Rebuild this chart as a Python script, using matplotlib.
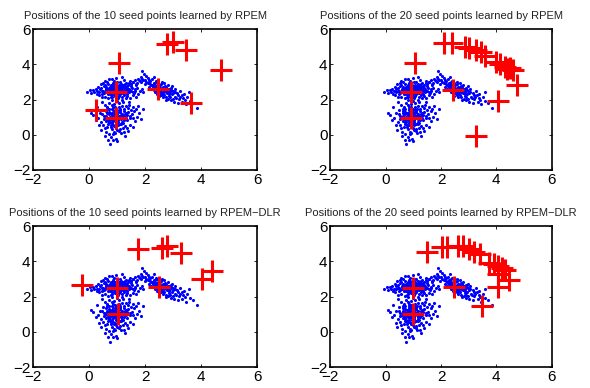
import matplotlib
matplotlib.use("Agg")
import matplotlib.pyplot as plt

plt.rcParams['font.family'] = ['Liberation Sans', 'DejaVu Sans']

# sample data (same in all four panels)
cloud_a = [(0.62,2.71),(1.13,2.38),(0.85,2.95),(1.41,2.62),(0.47,2.33),(1.02,2.07),(1.28,2.89),(0.73,2.52),(1.55,2.41),(0.95,2.66),
           (0.38,2.58),(1.19,2.17),(0.81,2.24),(1.36,2.31),(1.07,2.83),(0.58,2.44),(1.49,2.76),(0.91,2.41),(1.23,2.55),(0.69,2.87),
           (0.29,2.46),(1.63,2.57),(0.77,2.12),(1.11,3.02),(0.52,2.79),(1.31,2.08),(0.98,2.29),(1.44,2.94),(0.66,2.31),(1.05,2.61),
           (0.18,2.41),(1.72,2.68),(0.88,3.08),(1.26,2.44),(0.43,2.67),(1.58,2.23),(0.74,2.69),(1.16,2.74),(0.99,1.93),(1.39,2.51),
           (0.55,2.17),(0.84,2.58),(1.21,2.35),(0.64,2.98),(1.47,2.11),(0.35,2.26),(1.09,2.49),(0.79,2.81),(1.34,2.77),(0.93,2.18),
           (0.08,2.38),(1.82,2.47),(0.71,3.15),(1.25,3.11),(0.49,2.51),(1.66,2.88),(1.03,2.35),(0.86,2.45),(1.14,2.64),(0.60,2.60),
           (0.23,2.62),(1.52,2.65),(0.97,3.21),(1.37,2.19),(0.68,2.06),(1.18,1.98),(0.41,2.88),(1.60,2.36),(0.89,2.72),(1.29,2.69),
           (-0.08,2.43),(0.15,2.52),(0.32,2.73),(1.75,2.31),(1.88,2.59),(0.57,3.05),(1.45,3.08),(1.01,2.98),(0.80,1.99),(1.32,2.96),
           (0.46,2.12),(1.69,2.14),(0.94,2.53),(1.06,2.21),(0.76,2.38),(1.22,2.81),(0.63,2.49),(1.41,2.42),(0.87,2.87),(1.12,2.45),
           (0.27,2.31),(0.51,2.96),(1.56,2.99),(1.17,3.26),(0.82,3.19),(0.05,2.55),(1.93,2.42),(1.64,2.49),(0.37,2.43),(1.35,2.58),
           (0.88,2.52),(1.04,2.44),(0.97,2.61),(1.15,2.53),(0.83,2.37),(1.08,2.69),(0.92,2.31),(1.21,2.47),(0.76,2.61),(1.01,2.56),
           (0.86,2.66),(1.18,2.41),(0.95,2.47),(1.27,2.62),(0.72,2.44),(1.10,2.29),(0.99,2.76),(0.81,2.51),(1.33,2.46),(0.90,2.58),
           (1.06,2.37),(0.78,2.72),(1.24,2.71),(0.93,2.24),(1.13,2.58),(0.67,2.55),(1.02,2.66),(0.87,2.43),(1.30,2.37),(0.96,2.39),
           (0.74,2.33),(1.19,2.63),(1.05,2.52),(0.84,2.79),(1.37,2.67),(0.59,2.52),(1.11,2.78),(0.94,2.84),(1.43,2.53),(0.70,2.64),
           (0.53,2.38),(0.45,2.49),(1.50,2.47),(0.61,2.67),(1.26,2.28),(0.80,2.17),(1.15,2.90),(0.99,2.12),(1.40,2.83),(0.56,2.84)]
cloud_b = [(0.82,1.12),(1.15,0.87),(0.61,0.78),(1.32,1.25),(0.93,0.52),(1.07,1.43),(0.71,1.31),(1.45,0.95),(0.86,0.91),(1.21,0.68),
           (0.53,1.05),(1.01,1.18),(0.77,0.44),(1.38,1.52),(0.96,0.79),(1.26,1.07),(0.65,1.57),(1.11,0.33),(0.84,1.38),(1.52,1.15),
           (0.44,0.72),(1.03,0.96),(0.73,1.01),(1.18,1.61),(0.89,0.18),(1.34,0.81),(0.58,0.93),(0.98,1.27),(1.27,0.49),(0.69,0.61),
           (1.62,1.33),(0.39,1.21),(1.09,0.62),(0.81,1.68),(1.41,1.71),(0.92,1.04),(0.55,0.38),(1.23,1.34),(0.75,0.83),(1.14,1.12),
           (0.31,0.95),(1.71,1.02),(0.87,0.05),(1.05,1.78),(0.63,1.21),(1.47,0.58),(0.97,0.41),(1.29,0.98),(0.70,1.45),(1.16,0.75),
           (0.48,1.41),(1.58,1.58),(0.79,-0.12),(1.36,0.36),(0.91,1.55),(0.60,0.15),(1.20,1.88),(0.83,0.67),(1.08,0.24),(0.66,0.97),
           (0.24,0.86),(1.79,1.21),(0.95,-0.22),(1.12,1.49),(0.72,1.82),(1.50,1.39),(0.51,0.57),(1.30,1.64),(0.88,0.86),(1.02,0.73),
           (0.75,-0.55),(0.68,-0.28),(0.42,0.25),(1.85,0.91),(1.92,1.45),(0.36,0.53),(1.24,0.13),(0.57,1.71),(1.65,0.76),(1.44,1.86),
           (0.80,1.22),(1.06,1.08),(0.94,1.19),(0.74,0.70),(1.19,0.93),(0.62,1.34),(1.35,1.11),(0.85,0.55),(1.10,1.31),(0.99,0.88),
           (0.15,1.12),(0.08,1.24),(0.46,1.86),(1.55,0.42),(1.40,0.21),(0.99,-0.35),(0.58,-0.08),(1.74,1.62),(0.27,1.55),(1.28,-0.05),
           (0.91,0.97),(1.06,1.02),(0.97,1.11),(1.13,0.94),(0.84,1.04),(1.02,0.84),(0.88,1.21),(1.17,1.19),(0.95,0.68),(1.09,1.27),
           (0.79,0.92),(1.23,0.86),(0.93,1.33),(1.04,0.58),(0.71,1.15),(1.19,1.04),(0.86,0.77),(1.11,1.40),(0.98,1.02),(1.28,1.19),
           (0.76,1.24),(1.00,0.65),(0.83,1.47),(1.15,0.60),(0.67,0.86),(1.33,0.95),(0.90,0.47),(1.07,1.60),(0.62,1.06),(1.25,1.47),
           (0.97,1.45),(0.78,0.58),(1.39,1.31),(0.70,0.74),(1.01,0.29),(0.86,1.60),(1.20,0.39),(0.64,1.44),(1.46,1.08),(0.52,0.88),
           (0.93,0.11),(0.80,0.30),(1.14,0.12),(0.71,0.03),(0.84,-0.30),(0.65,0.45),(1.57,0.95),(1.68,1.44),(0.47,1.19),(0.90,1.77)]
cloud_c = [(2.41,2.57),(2.63,2.44),(2.28,2.71),(2.79,2.36),(2.52,2.82),(2.95,2.29),(2.17,2.91),(2.68,2.63),(2.35,2.41),(2.87,2.52),
           (2.04,3.02),(2.58,2.28),(2.73,2.12),(2.46,2.95),(3.08,2.17),(1.92,3.11),(2.61,2.67),(2.22,2.58),(3.14,2.39),(2.83,2.04),
           (1.81,3.04),(2.39,3.08),(2.99,2.48),(2.54,2.51),(2.71,2.79),(1.72,2.93),(2.11,3.21),(3.21,2.02),(2.33,2.83),(2.91,2.66),
           (1.65,3.12),(2.48,2.19),(3.31,2.25),(2.26,3.14),(2.77,2.47),(1.98,2.87),(3.02,1.88),(2.59,2.99),(2.14,2.72),(3.42,1.96),
           (1.87,3.29),(2.65,2.33),(2.43,2.69),(3.26,2.51),(2.03,3.35),(2.86,2.21),(2.56,2.61),(1.58,3.02),(3.51,2.13),(2.37,2.98),
           (2.92,1.95),(1.95,3.47),(2.69,2.93),(3.16,1.79),(2.19,3.05),(3.37,2.33),(1.76,3.19),(2.81,2.83),(2.50,2.38),(3.06,2.61),
           (1.50,2.88),(2.31,3.26),(3.60,1.91),(2.75,1.99),(3.45,1.72),(1.68,2.81),(2.09,2.95),(2.97,2.74),(3.71,1.82),(3.85,1.53),
           (3.58,2.42),(1.90,3.60),(2.62,2.15),(2.38,2.47),(2.84,2.58),(3.11,2.07),(2.25,2.84),(1.84,2.98),(3.33,1.86),(2.70,2.71),
           (2.47,2.52),(2.58,2.43),(2.39,2.62),(2.66,2.55),(2.52,2.66),(2.74,2.42),(2.31,2.55),(2.61,2.31),(2.44,2.76),(2.81,2.60),
           (2.55,2.38),(2.69,2.25),(2.36,2.85),(2.88,2.41),(2.50,2.57),(2.76,2.70),(2.27,2.78),(2.94,2.55),(2.63,2.72),(2.42,2.34),
           (3.00,2.36),(2.13,2.98),(2.85,2.30),(2.20,2.85),(3.05,2.44),(2.57,2.86),(2.90,2.12),(2.00,3.12),(3.19,2.28),(2.30,2.96),
           (1.88,3.17),(3.24,2.16),(2.72,2.56),(2.46,2.45),(2.98,2.02),(1.79,3.10),(3.36,2.08),(2.15,3.10),(2.80,2.48),(2.35,2.64)]

# learned seed points
seeds_rpem_10 = [(1.05,4.10),(2.77,5.15),(2.98,5.25),(3.45,4.80),(4.70,3.70),
                 (0.95,2.45),(2.45,2.60),(3.65,1.78),(0.25,1.40),(0.95,0.95)]
seeds_rpem_20 = [(1.05,4.10),(0.92,2.45),(0.90,0.95),(2.45,2.55),(3.25,-0.05),(4.07,1.90),(4.75,2.85),
                 (2.10,5.20),(2.40,5.20),(2.85,5.00),(3.00,4.95),(3.25,4.80),(3.45,4.70),(3.60,4.50),
                 (4.00,4.15),(4.15,4.00),(4.30,3.85),(4.40,3.75),(4.50,3.80),(4.60,3.70)]
seeds_dlr_10 = [(-0.25,2.65),(1.00,2.50),(1.02,1.00),(2.48,2.55),(1.73,4.70),
                (2.60,4.77),(2.77,4.90),(3.27,4.50),(4.02,3.00),(4.38,3.43)]
seeds_dlr_20 = [(0.98,2.50),(1.00,1.00),(2.47,2.53),(3.47,1.45),(1.50,4.55),
                (2.05,4.80),(2.20,4.80),(2.60,4.85),(2.80,4.90),(3.00,4.70),(3.20,4.55),(3.40,4.40),
                (3.75,3.90),(3.90,3.85),(4.05,3.75),(4.20,3.60),(4.30,3.50),(4.05,3.30),(4.45,2.95),(4.05,2.55)]

titles = ['Positions of the 10 seed points learned by RPEM',
          'Positions of the 20 seed points learned by RPEM',
          'Positions of the 10 seed points learned by RPEM\u2212DLR',
          'Positions of the 20 seed points learned by RPEM\u2212DLR']
ticks = [-2, 0, 2, 4, 6]

cloud = cloud_a + cloud_b + cloud_c
cx = [p[0] for p in cloud]
cy = [p[1] for p in cloud]

fig = plt.figure(figsize=(5.9, 3.88), dpi=100)
boxes = [[0.056, 0.562, 0.380, 0.363], [0.560, 0.562, 0.375, 0.363],
         [0.056, 0.054, 0.380, 0.363], [0.560, 0.054, 0.375, 0.363]]

for box, seeds, title in zip(boxes, [seeds_rpem_10, seeds_rpem_20, seeds_dlr_10, seeds_dlr_20], titles):
    ax = fig.add_axes(box)
    ax.plot(cx, cy, '.', color='#0000ff', markersize=4.5, markeredgewidth=0)
    ax.plot([s[0] for s in seeds], [s[1] for s in seeds], '+', color='#ff0000',
            markersize=16, markeredgewidth=2.2)
    ax.set_xlim(-2, 6)
    ax.set_ylim(-2, 6)
    ax.set_xticks(ticks)
    ax.set_yticks(ticks)
    ax.tick_params(direction='in', length=2.5, width=0.6, labelsize=11, pad=2,
                   top=True, right=True)
    for sp in ax.spines.values():
        sp.set_linewidth(1.2)
    ax.set_title(title, fontsize=8, pad=7, color='#222222')

fig.savefig('out.png', dpi=100)
